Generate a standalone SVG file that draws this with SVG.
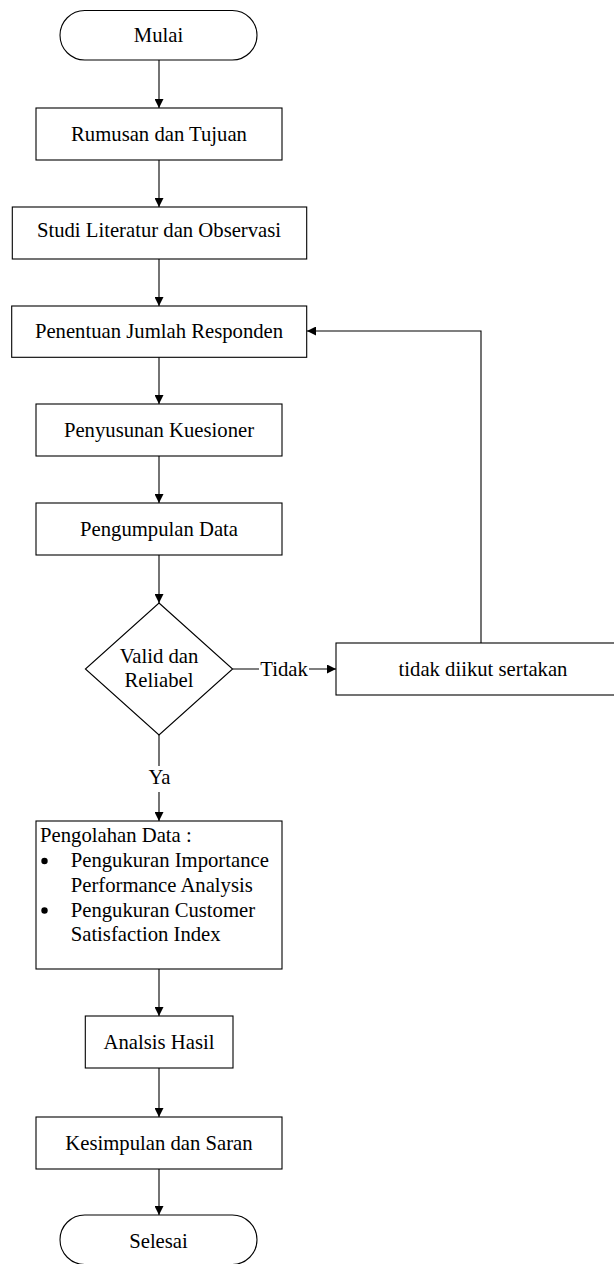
<svg xmlns="http://www.w3.org/2000/svg" width="614" height="1264" viewBox="0 0 614 1264">
<style>
.s{fill:#fff;stroke:#000;stroke-width:1.1}
.t{font-family:"Liberation Serif","Times New Roman",serif;font-size:20.7px;fill:#000;text-anchor:middle}
.l{font-family:"Liberation Serif","Times New Roman",serif;font-size:20.7px;fill:#000}
.c{fill:none;stroke:#000;stroke-width:1.1}
</style>
<defs>
<marker id="ah" viewBox="0 0 10 10" refX="10" refY="5" markerWidth="9" markerHeight="9" markerUnits="userSpaceOnUse" orient="auto">
<path d="M0,0 L10,5 L0,10 Z" fill="#000"/>
</marker>
</defs>
<rect width="614" height="1264" fill="#fff"/>
<g id="connectors">
<line class="c" x1="159" y1="60" x2="159" y2="108" marker-end="url(#ah)"/>
<line class="c" x1="159" y1="160" x2="159" y2="207" marker-end="url(#ah)"/>
<line class="c" x1="159" y1="259" x2="159" y2="306" marker-end="url(#ah)"/>
<line class="c" x1="159" y1="357" x2="159" y2="404" marker-end="url(#ah)"/>
<line class="c" x1="159" y1="456" x2="159" y2="503" marker-end="url(#ah)"/>
<line class="c" x1="159" y1="555" x2="159" y2="603" marker-end="url(#ah)"/>
<line class="c" x1="232.6" y1="669" x2="336" y2="669" marker-end="url(#ah)"/>
<polyline class="c" points="481,643 481,331 307,331" marker-end="url(#ah)"/>
<line class="c" x1="159" y1="735" x2="159" y2="821" marker-end="url(#ah)"/>
<line class="c" x1="159" y1="969" x2="159" y2="1016" marker-end="url(#ah)"/>
<line class="c" x1="159" y1="1068" x2="159" y2="1117" marker-end="url(#ah)"/>
<line class="c" x1="159" y1="1169" x2="159" y2="1215" marker-end="url(#ah)"/>
<rect x="259" y="657" width="50" height="24" fill="#fff"/>
<text class="t" x="284" y="676">Tidak</text>
<rect x="146" y="766" width="27" height="26" fill="#fff"/>
<text class="t" x="159.5" y="784">Ya</text>
</g>
<g id="mulai">
<rect class="s" x="60" y="10.5" width="197" height="49.5" rx="24.75" ry="24.75"/>
<text class="t" x="158.5" y="41.7">Mulai</text>
</g>
<g id="rumusan">
<rect class="s" x="36" y="108" width="246" height="52"/>
<text class="t" x="159" y="140.7">Rumusan dan Tujuan</text>
</g>
<g id="studi">
<rect class="s" x="12.3" y="207" width="294.4" height="52"/>
<text class="t" x="159" y="236.7">Studi Literatur dan Observasi</text>
</g>
<g id="penentuan">
<rect class="s" x="11.7" y="306" width="295" height="51.3"/>
<text class="t" x="159" y="338">Penentuan Jumlah Responden</text>
</g>
<g id="penyusunan">
<rect class="s" x="36" y="404" width="246" height="52"/>
<text class="t" x="159" y="437">Penyusunan Kuesioner</text>
</g>
<g id="pengumpulan">
<rect class="s" x="36" y="503" width="246" height="52"/>
<text class="t" x="159" y="535.5">Pengumpulan Data</text>
</g>
<g id="valid">
<polygon class="s" points="159,603 232.6,669 159,735 85.4,669"/>
<text class="t" x="159" y="662.7">Valid dan</text>
<text class="t" x="159" y="687">Reliabel</text>
</g>
<g id="tidak-diikut">
<rect class="s" x="336" y="643" width="290" height="52"/>
<text class="t" x="483" y="676">tidak diikut sertakan</text>
</g>
<g id="pengolahan">
<rect class="s" x="36" y="821" width="246" height="148"/>
<text class="l" x="40" y="842.3">Pengolahan Data :</text>
<circle cx="44.5" cy="861" r="3.2" fill="#000"/>
<text class="l" x="70.7" y="867.3">Pengukuran Importance</text>
<text class="l" x="70.7" y="891.7">Performance Analysis</text>
<circle cx="44.5" cy="910.5" r="3.2" fill="#000"/>
<text class="l" x="70.7" y="916.7">Pengukuran Customer</text>
<text class="l" x="70.7" y="941">Satisfaction Index</text>
</g>
<g id="analsis">
<rect class="s" x="85.3" y="1016" width="147.7" height="52"/>
<text class="t" x="159" y="1048.5">Analsis Hasil</text>
</g>
<g id="kesimpulan">
<rect class="s" x="36" y="1117" width="246" height="52"/>
<text class="t" x="159" y="1149.5">Kesimpulan dan Saran</text>
</g>
<g id="selesai">
<rect class="s" x="60" y="1215" width="197" height="49.5" rx="24.75" ry="24.75"/>
<text class="t" x="158.5" y="1248">Selesai</text>
</g>
</svg>
